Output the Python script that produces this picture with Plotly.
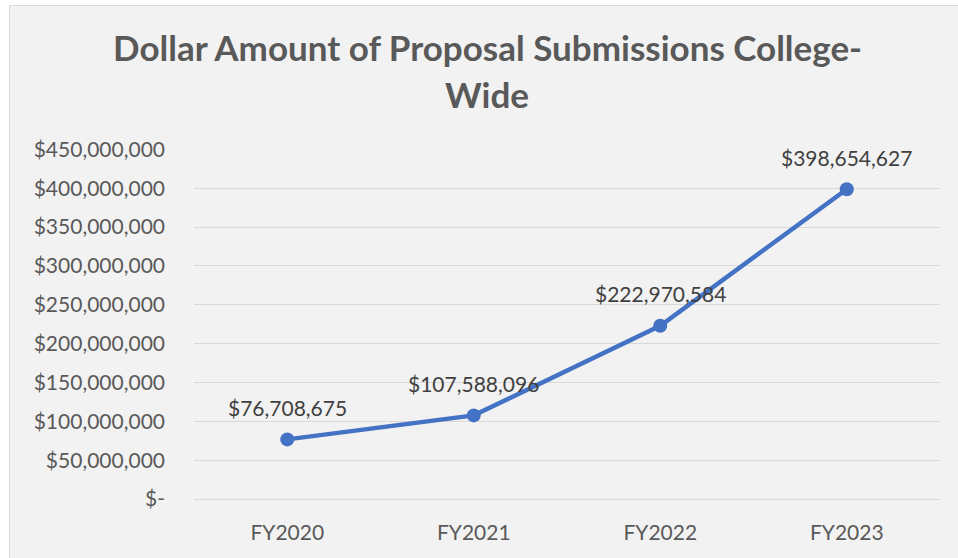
import plotly.graph_objects as go

categories = ["FY2020", "FY2021", "FY2022", "FY2023"]
amounts = [76708675, 107588096, 222970584, 398654627]
data_labels = ["$76,708,675", "$107,588,096", "$222,970,584", "$398,654,627"]
y_tick_values = [0, 50e6, 100e6, 150e6, 200e6, 250e6, 300e6, 350e6, 400e6, 450e6]
y_tick_labels = ["$-", "$50,000,000", "$100,000,000", "$150,000,000", "$200,000,000",
                 "$250,000,000", "$300,000,000", "$350,000,000", "$400,000,000", "$450,000,000"]
title_lines = ["Dollar Amount of Proposal Submissions College-", "Wide"]

W, H = 958, 558
L, R, T, B = 194, 18, 149, 59
PW, PH = W - L - R, H - T - B

def px_x(px):
    return (px - L) / PW

def px_y(py):
    return (H - B - py) / PH

FONT = "Lato, Calibri, Carlito, sans-serif"

fig = go.Figure()
fig.add_trace(go.Scatter(
    x=categories, y=amounts, mode="lines+markers",
    line=dict(color="#4472C4", width=4.5),
    marker=dict(color="#4472C4", size=14),
    hoverinfo="skip", showlegend=False,
))

for c, v, t in zip(categories, amounts, data_labels):
    fig.add_annotation(x=c, y=v, text=t, showarrow=False, yshift=32,
                       font=dict(family=FONT, size=21, color="#404040"))

for i, line in enumerate(title_lines):
    fig.add_annotation(xref="paper", yref="paper", x=px_x(487), y=px_y(47 + 47 * i),
                       text="<b>" + line + "</b>", showarrow=False,
                       xanchor="center", yanchor="middle",
                       font=dict(family=FONT, size=35, color="#595959"))

fig.add_shape(type="rect", xref="paper", yref="paper", layer="below",
              x0=px_x(9.5), x1=px_x(965), y0=px_y(565), y1=px_y(5.5),
              fillcolor="#F2F2F2", line=dict(color="#D9D9D9", width=1))

fig.update_layout(
    width=W, height=H,
    margin=dict(l=L, r=R, t=T, b=B, pad=0),
    paper_bgcolor="white", plot_bgcolor="rgba(0,0,0,0)",
    font=dict(family=FONT, size=21, color="#595959"),
    xaxis=dict(type="category", range=[-0.5, 3.5], showgrid=False, zeroline=False,
               showline=False, ticks="", ticklabelstandoff=19,
               tickfont=dict(family=FONT, size=21, color="#595959")),
    yaxis=dict(range=[0, 450.4e6], tickvals=y_tick_values, ticktext=y_tick_labels,
               showgrid=True, gridcolor="#D9D9D9", gridwidth=1,
               zeroline=True, zerolinecolor="#D9D9D9", zerolinewidth=1,
               showline=False, ticks="", ticklabelstandoff=28,
               tickfont=dict(family=FONT, size=21, color="#595959")),
)

fig.write_html("out.html", config={"displayModeBar": False, "staticPlot": True},
               post_script="document.body.style.margin='0';document.body.style.overflow='hidden';")
